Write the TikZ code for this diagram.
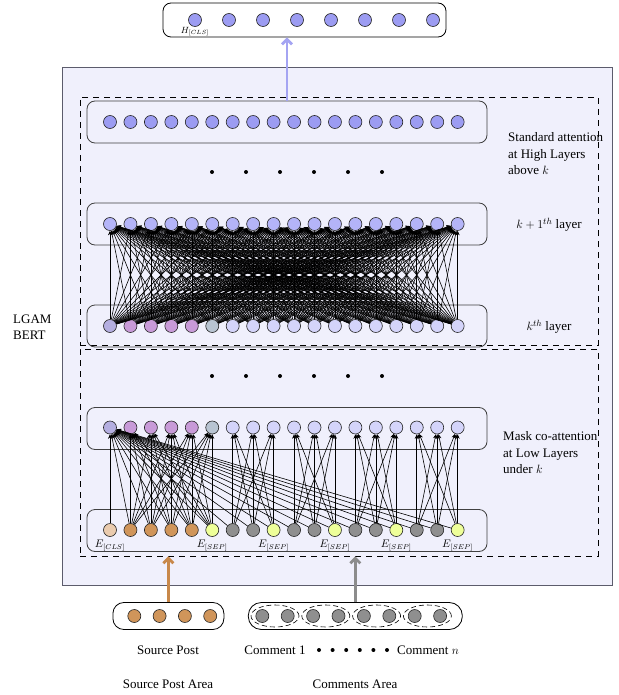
\documentclass[tikz,border=0pt]{standalone}
\usepackage{fontspec}
\setmainfont{Liberation Serif}
\usetikzlibrary{shapes.geometric, arrows.meta, positioning}
\usepackage{xcolor}
\definecolor{BertFill}{HTML}{F0F0FC}
\definecolor{BertLine}{HTML}{5C5C6C}
\definecolor{HighNode}{HTML}{9C9CF2}
\definecolor{KpNode}{HTML}{B4B4F8}
\definecolor{LayCls}{HTML}{B4AEE0}
\definecolor{LaySrc}{HTML}{C89AD8}
\definecolor{LaySep}{HTML}{B8C4D2}
\definecolor{LayCmt}{HTML}{D4D4FA}
\definecolor{EmbCls}{HTML}{EACBAE}
\definecolor{EmbSrc}{HTML}{D0955A}
\definecolor{EmbSep}{HTML}{EEFF99}
\definecolor{EmbCmt}{HTML}{8F8F8F}
\definecolor{FlowBlue}{HTML}{A4A4F2}
\definecolor{FlowBrown}{HTML}{C8884A}
\definecolor{FlowGray}{HTML}{8C8C8C}
\tikzset{
    % boxes
    mainbox/.style={
        rectangle,
        draw=BertLine,
        fill=BertFill,
        line width=0.9pt
    },
    areabox/.style={
        rectangle,
        draw=black,
        dashed,
        dash pattern=on 6pt off 5pt,
        line width=0.6pt
    },
    layerbox/.style={
        rectangle,
        draw=black!75,
        rounded corners=8pt,
        line width=0.8pt,
        minimum width=400,
        minimum height=42
    },
    inputbox/.style={
        rectangle,
        draw=black,
        fill=white,
        rounded corners=11pt,
        line width=0.8pt,
        minimum height=27
    },
    pairring/.style={
        ellipse,
        draw=black,
        dashed,
        dash pattern=on 5pt off 3pt,
        line width=0.6pt,
        minimum width=48,
        minimum height=22
    },
    % neurons
    neuron/.style={
        circle,
        draw=black!85,
        line width=0.6pt,
        minimum size=13,
        inner sep=0pt
    },
    bigdot/.style={
        circle,
        fill=black,
        inner sep=0pt,
        minimum size=4
    },
    % texts
    txt/.style={
        font=\fontsize{13}{16.5}\selectfont,
        inner sep=0pt,
        align=left
    },
    emb/.style={
        font=\fontsize{10.5}{11}\selectfont,
        inner sep=0pt
    },
    % arrows
    attn/.style={
        -{Stealth[length=4.5pt,width=4pt]},
        line width=0.6pt,
        draw=black
    },
    flow/.style={
        -{Straight Barb[length=5pt,width=10pt]},
        line width=2.8pt
    }
}
\begin{document}
\begin{tikzpicture}[x=1pt, y=-1pt]
    \useasboundingbox (0,0) rectangle (618,695);

    \node[mainbox, minimum width=550, minimum height=518] (bert) at (337,326) {};
    \node[areabox, minimum width=518, minimum height=248] (high-area) at (339,221) {};
    \node[areabox, minimum width=518, minimum height=207] (low-area) at (339,452.5) {};

    \node[layerbox] (box-h) at (287,122) {};
    \node[layerbox] (box-kp) at (287,224) {};
    \node[layerbox] (box-kl) at (287,326) {};
    \node[layerbox] (box-lu) at (287,428.5) {};
    \node[layerbox] (box-e) at (287,530.5) {};

    % output layer
    \node[inputbox, rounded corners=8pt, minimum width=283, minimum height=34] (box-o) at (304.5,20) {};
    \foreach \i in {0,...,7}
        \node[neuron, fill=HighNode] (o-\i) at ({195+34*\i},20) {};
    \node[emb, font=\fontsize{9}{10}\selectfont, below=0pt of o-0.south] (h-cls) {$H_{[CLS]}$};

    % high layers
    \foreach \i in {0,...,17}
        \node[neuron, fill=HighNode] (h-\i) at ({110+20.45*\i},122) {};
    \foreach \i in {0,...,17}
        \node[neuron, fill=KpNode] (kp-\i) at ({110+20.45*\i},224) {};
    \foreach \c [count=\i from 0] in {LayCls,LaySrc,LaySrc,LaySrc,LaySrc,LaySep,
            LayCmt,LayCmt,LayCmt,LayCmt,LayCmt,LayCmt,LayCmt,LayCmt,LayCmt,LayCmt,LayCmt,LayCmt}
        \node[neuron, fill=\c] (kl-\i) at ({110+20.45*\i},326) {};

    % low layers
    \foreach \c [count=\i from 0] in {LayCls,LaySrc,LaySrc,LaySrc,LaySrc,LaySep,
            LayCmt,LayCmt,LayCmt,LayCmt,LayCmt,LayCmt,LayCmt,LayCmt,LayCmt,LayCmt,LayCmt,LayCmt}
        \node[neuron, fill=\c] (lu-\i) at ({110+20.45*\i},427.5) {};
    \foreach \c [count=\i from 0] in {EmbCls,EmbSrc,EmbSrc,EmbSrc,EmbSrc,EmbSep,
            EmbCmt,EmbCmt,EmbSep,EmbCmt,EmbCmt,EmbSep,EmbCmt,EmbCmt,EmbSep,EmbCmt,EmbCmt,EmbSep}
        \node[neuron, fill=\c] (e-\i) at ({110+20.45*\i},530) {};
    \node[emb, below=3pt of e-0.south] (e-cls) {$E_{[CLS]}$};
    \foreach \i in {5,8,11,14,17}
        \node[emb, below=3pt of e-\i.south] (e-sep-\i) {$E_{[SEP]}$};

    % dots between layers
    \foreach \i in {0,...,5} {
        \node[bigdot] (dh-\i) at ({212+34*\i},172) {};
        \node[bigdot] (dl-\i) at ({212+34*\i},376) {};
    }

    % standard attention k -> k+1
    \foreach \i in {0,...,17}
        \foreach \j in {0,...,17}
            \draw[attn] (kl-\i) -- (kp-\j);

    % mask co-attention
    \foreach \i in {0,...,17}
        \draw[attn] (e-\i) -- (lu-0);
    \foreach \i in {1,...,5}
        \foreach \j in {1,...,5}
            \draw[attn] (e-\i) -- (lu-\j);
    \foreach \g in {6,9,12,15} {
        \foreach \a in {0,1,2} {
            \foreach \b in {0,1,2} {
                \pgfmathtruncatemacro{\srcn}{\g+\a}
                \pgfmathtruncatemacro{\dstn}{\g+\b}
                \draw[attn] (e-\srcn) -- (lu-\dstn);
            }
        }
    }

    % input areas
    \node[inputbox, minimum width=111] (box-sp) at (168.4,616) {};
    \foreach \i in {0,...,3}
        \node[neuron, fill=EmbSrc] (sp-\i) at ({134.3+25.3*\i},616) {};
    \node[inputbox, rounded corners=13pt, minimum width=214] (box-cm) at (355.3,616) {};
    \foreach \i in {0,...,7}
        \node[neuron, fill=EmbCmt] (cm-\i) at ({262.3+25.4*\i},616) {};
    \foreach \i in {0,...,3}
        \node[pairring] (pair-\i) at ({275+50.8*\i},616) {};

    % flows
    \draw[flow, draw=FlowBlue] (box-h.north) -- (box-h.north |- box-o.south);
    \draw[flow, draw=FlowBrown] (box-sp.north) -- (box-sp.north |- low-area.south);
    \draw[flow, draw=FlowGray] (box-cm.north) -- (box-cm.north |- low-area.south);

    % texts
    \node[txt, anchor=west] (t-bert) at (13,327) {LGAM\\BERT};
    \node[txt, anchor=west] (t-high) at (508,154) {Standard attention\\at High Layers\\above $k$};
    \node[txt] (t-kp) at (549,225) {$k+1^{th}$ layer};
    \node[txt] (t-kl) at (549,327) {$k^{th}$ layer};
    \node[txt, anchor=west] (t-low) at (503,453) {Mask co-attention\\at Low Layers\\under $k$};

    \node[txt] (t-sp) at (168,650) {Source Post};
    \node[txt] (t-c1) at (275,650) {Comment 1};
    \foreach \i in {0,...,5}
        \node[bigdot] (dc-\i) at ({319+13.6*\i},650) {};
    \node[txt] (t-cn) at (428,650) {Comment $n$};
    \node[txt] (t-spa) at (168,684) {Source Post Area};
    \node[txt] (t-cma) at (355,684) {Comments Area};
\end{tikzpicture}
\end{document}
